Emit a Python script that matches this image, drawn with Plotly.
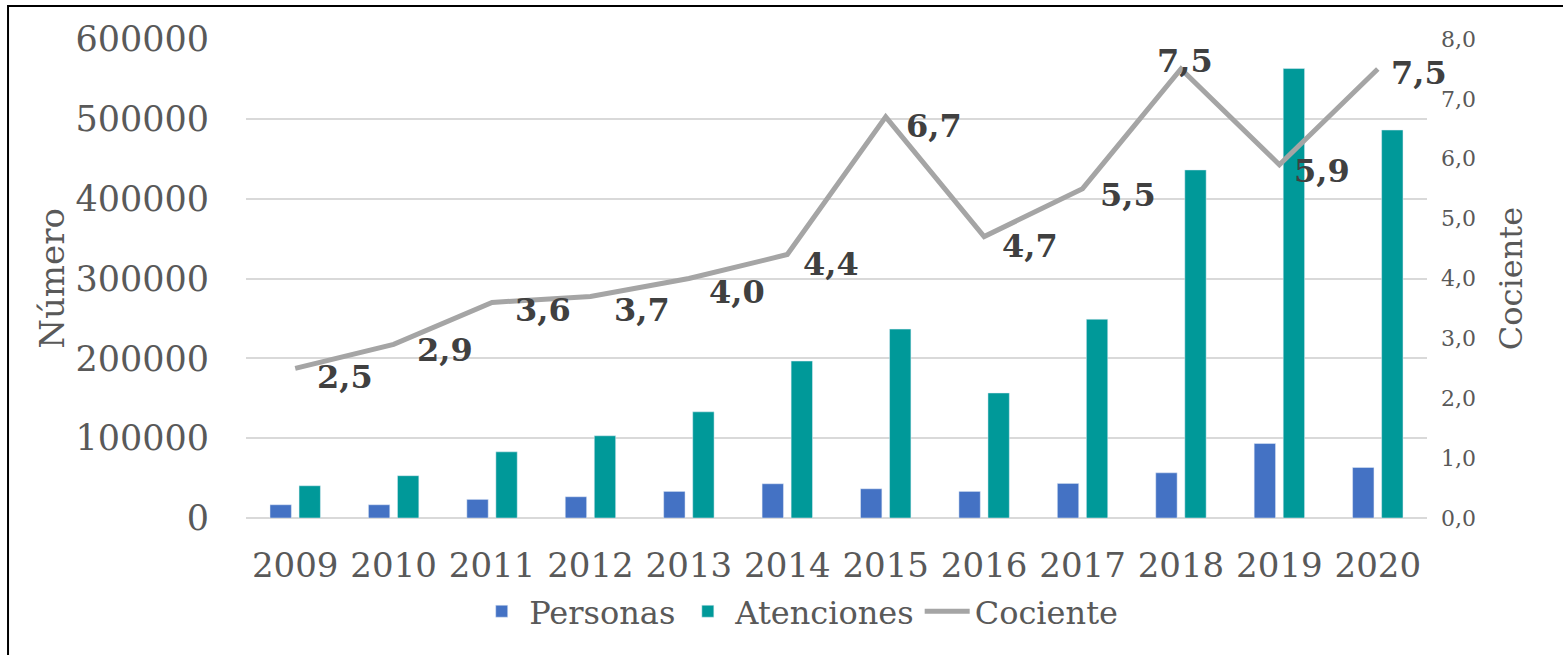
import plotly.graph_objects as go

years = ['2009', '2010', '2011', '2012', '2013', '2014',
         '2015', '2016', '2017', '2018', '2019', '2020']
personas = [16600, 16600, 23300, 26600, 33300, 42900,
            36600, 33300, 43300, 56600, 93300, 63300]
atenciones = [40400, 53000, 82900, 103000, 133000, 196600,
              236600, 156600, 249000, 436000, 563000, 486000]
cociente = [2.5, 2.9, 3.6, 3.7, 4.0, 4.4, 6.7, 4.7, 5.5, 7.5, 5.9, 7.5]
cociente_labels = ['2,5', '2,9', '3,6', '3,7', '4,0', '4,4',
                   '6,7', '4,7', '5,5', '7,5', '5,9', '7,5']

# label offsets in px (dx, dy) - hand placed in the original
label_dx = [50, 51, 51, 52, 48, 44, 48, 46, 45, 4, 43, 41]
label_dy = [-9, -6, -8, -14, -13, -9, -9, -9, -6, 8, -6, -4]

FONT = "Georgia, 'DejaVu Serif', serif"
GREY = '#595959'

fig = go.Figure()
fig.add_trace(go.Bar(name='Personas', x=years, y=personas, marker_color='#4472C4'))
fig.add_trace(go.Bar(name='Atenciones', x=years, y=atenciones, marker_color='#009999'))
fig.add_trace(go.Scatter(name='Cociente', x=years, y=cociente, yaxis='y2', mode='lines',
                         line=dict(color='#A5A5A5', width=5)))

# category axis: annotations use the category index
for i, (v, t) in enumerate(zip(cociente, cociente_labels)):
    fig.add_annotation(x=i, y=v, xref='x', yref='y2', text='<b>' + t + '</b>',
                       showarrow=False, xshift=label_dx[i], yshift=label_dy[i],
                       font=dict(family=FONT, size=32, color='#404040'))

# outer frame (only top and left are visible in the original crop)
fig.add_shape(type='rect', xref='paper', yref='paper', x0=-0.2015, x1=1.3, y0=-0.5, y1=1.0689,
              line=dict(color='black', width=2), layer='below')

fig.update_layout(
    width=1563, height=655,
    margin=dict(l=246, r=136, t=39, b=137),
    paper_bgcolor='white', plot_bgcolor='white',
    separators=',.',
    barmode='group', bargap=0.41, bargroupgap=0.264,
    font=dict(family=FONT, color=GREY),
    xaxis=dict(type='category', range=[-0.5, len(years) - 0.5], showgrid=False,
               showline=False, ticks='',
               tickfont=dict(size=34, color=GREY), ticklabelstandoff=24),
    yaxis=dict(range=[0, 600000], dtick=100000, tickformat='d',
               showgrid=True, gridcolor='#D9D9D9', gridwidth=1.5,
               zeroline=True, zerolinecolor='#D9D9D9', zerolinewidth=2,
               tickfont=dict(size=35, color=GREY), ticklabelstandoff=36,
               title=dict(text='Número', font=dict(size=34, color=GREY), standoff=0)),
    yaxis2=dict(range=[0, 8], dtick=1, tickformat='.1f', overlaying='y', side='right',
                showgrid=False, zeroline=False, tickfont=dict(size=22, color=GREY),
                ticklabelstandoff=13,
                title=dict(text='Cociente', font=dict(size=32, color=GREY), standoff=24)),
    legend=dict(orientation='h', x=0.468, xanchor='center', y=-0.195, yanchor='middle',
                font=dict(size=32, color=GREY), bgcolor='rgba(0,0,0,0)', itemwidth=45),
    showlegend=True,
)

# drop the browser's default 8px body margin so the figure sits at the page corner
fig.write_html('out.html', config={'displayModeBar': False},
               post_script="document.body.style.margin='0';")
